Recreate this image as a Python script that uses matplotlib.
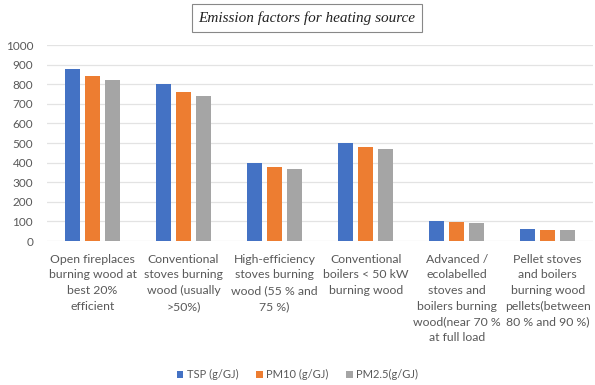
import numpy as np
import matplotlib.pyplot as plt

categories = [
    "Open fireplaces\nburning wood at\nbest 20%\nefficient",
    "Conventional\nstoves burning\nwood (usually\n>50%)",
    "High-efficiency\nstoves burning\nwood (55 % and\n75 %)",
    "Conventional\nboilers < 50 kW\nburning wood",
    "Advanced /\necolabelled\nstoves and\nboilers burning\nwood(near 70 %\nat full load",
    "Pellet stoves\nand boilers\nburning wood\npellets(between\n80 % and 90 %)",
]
series_names = ["TSP (g/GJ)", "PM10 (g/GJ)", "PM2.5(g/GJ)"]
tsp = [880, 800, 400, 500, 100, 60]
pm10 = [840, 760, 380, 480, 95, 57]
pm25 = [820, 740, 370, 470, 93, 57]

colors = ["#4472c4", "#ed7d31", "#a5a5a5"]
text_color = "#595959"

plt.rcParams["font.family"] = ["Lato", "DejaVu Sans"]

fig = plt.figure(figsize=(5.95, 3.85), dpi=100)
ax = fig.add_axes([0.079, 0.374, 0.918, 0.509])

x = np.arange(len(categories))
w = 0.165
for i, (vals, name) in enumerate(zip([tsp, pm10, pm25], series_names)):
    ax.bar(x + (i - 1) * 0.22, vals, width=w, color=colors[i], label=name, zorder=3)

ax.set_ylim(0, 1000)
ax.set_yticks(range(0, 1001, 100))
ax.set_xlim(-0.5, len(categories) - 0.5)
ax.set_xticks(x)
ax.set_xticklabels(categories, fontsize=8.8, color=text_color, linespacing=1.53)
ax.tick_params(axis="y", labelsize=8.5, labelcolor=text_color, length=0, pad=10)
ax.tick_params(axis="x", length=0, pad=9)
ax.grid(axis="y", color="#e3e3e3", linewidth=0.9, zorder=0)
for s in ax.spines.values():
    s.set_visible(False)

fig.text(0.516, 0.953, "Emission factors for heating source", ha="center", va="center",
         fontsize=11, style="italic", family="Liberation Serif", color="#222222",
         bbox=dict(boxstyle="square,pad=0.45", facecolor="white", edgecolor="#888888", linewidth=0.8))

fig.legend(loc="center", bbox_to_anchor=(0.5, 0.027), ncol=3, frameon=False,
           fontsize=8, handlelength=0.6, handleheight=0.6, handletextpad=0.3,
           columnspacing=1.6, labelcolor=text_color)

fig.savefig("out.png", dpi=100)
